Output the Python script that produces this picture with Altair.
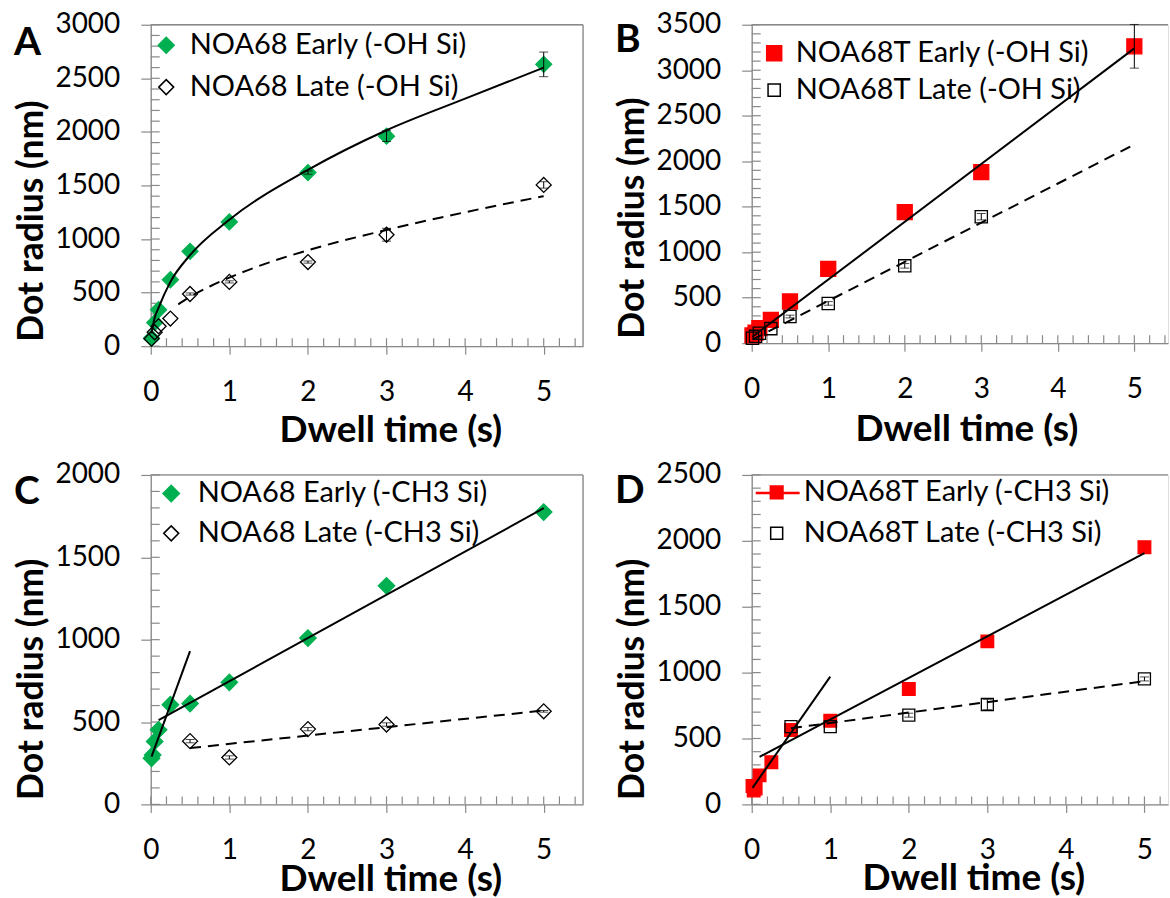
import altair as alt
import pandas as pd

GREEN = "#00B050"
RED = "#FF0000"
GRAY = "#898989"
FONT = "Lato"

# ---------------- Panel A : NOA68 on -OH Si ----------------
A_names = ["NOA68 Early (-OH Si)", "NOA68 Late (-OH Si)"]
A_early_x = [0.01, 0.05, 0.1, 0.25, 0.5, 1, 2, 3, 5]
A_early_y = [75, 220, 340, 620, 885, 1160, 1620, 1960, 2630]
A_early_err = [0, 0, 0, 0, 0, 0, 15, 50, 115]
A_late_x = [0.01, 0.05, 0.1, 0.25, 0.5, 1, 2, 3, 5]
A_late_y = [70, 130, 186, 258, 487, 600, 785, 1040, 1505]
A_late_err = [0, 0, 0, 0, 10, 10, 10, 60, 30]
A_fit_early_x = [0.01, 0.05, 0.1, 0.25, 0.5, 1, 2, 3, 4, 5]
A_fit_early_y = [120, 265, 360, 600, 850, 1180, 1645, 2015, 2310, 2600]
A_fit_late_x = [0.35, 0.5, 0.75, 1, 1.5, 2, 3, 4, 5]
A_fit_late_y = [390, 460, 557, 640, 780, 895, 1085, 1250, 1400]

# ---------------- Panel B : NOA68T on -OH Si ----------------
B_names = ["NOA68T Early (-OH Si)", "NOA68T Late (-OH Si)"]
B_early_x = [0.01, 0.05, 0.1, 0.25, 0.5, 1, 2, 3, 5]
B_early_y = [85, 115, 165, 256, 458, 816, 1440, 1880, 3263]
B_early_err = [0, 0, 0, 0, 0, 0, 0, 0, 240]
B_late_x = [0.01, 0.05, 0.1, 0.25, 0.5, 1, 2, 3]
B_late_y = [55, 75, 110, 160, 293, 437, 850, 1390]
B_late_err = [0, 0, 0, 0, 15, 20, 25, 35]
B_fit_early_x = [0.01, 5]
B_fit_early_y = [70, 3240]
B_fit_late_x = [0.01, 5]
B_fit_late_y = [39, 2184]

# ---------------- Panel C : NOA68 on -CH3 Si ----------------
C_names = ["NOA68 Early (-CH3 Si)", "NOA68 Late (-CH3 Si)"]
C_early_x = [0.01, 0.025, 0.05, 0.1, 0.25, 0.5, 1, 2, 3, 5]
C_early_y = [280, 300, 382, 453, 605, 612, 741, 1010, 1327, 1775]
C_early_err = [0, 0, 0, 0, 0, 0, 0, 0, 0, 0]
C_late_x = [0.5, 1, 2, 3, 5]
C_late_y = [384, 285, 457, 485, 565]
C_late_err = [10, 10, 10, 10, 5]
C_fit1_x = [0.01, 0.5]
C_fit1_y = [290, 930]
C_fit2_x = [0.1, 5]
C_fit2_y = [511, 1798]
C_fit_late_x = [0.5, 5]
C_fit_late_y = [342, 570]

# ---------------- Panel D : NOA68T on -CH3 Si ----------------
D_names = ["NOA68T Early (-CH3 Si)", "NOA68T Late (-CH3 Si)"]
D_early_x = [0.01, 0.025, 0.05, 0.1, 0.25, 0.5, 1, 2, 3, 5]
D_early_y = [140, 105, 120, 220, 320, 565, 635, 876, 1237, 1952]
D_early_err = [0, 0, 0, 0, 0, 0, 0, 0, 0, 0]
D_late_x = [0.5, 1, 2, 3, 5]
D_late_y = [590, 590, 677, 758, 952]
D_late_err = [0, 0, 15, 40, 15]
D_fit1_x = [0.01, 1]
D_fit1_y = [125, 970]
D_fit2_x = [0.1, 5]
D_fit2_y = [361, 1907]
D_fit_late_x = [0.5, 5]
D_fit_late_y = [578, 935]


def panel(letter, letter_y, names, early, late, fits, ymax, xmax, width, height,
          shapes, fills, strokes, sizes, legend_pos, label_offset, row_pad,
          xtitle_pos, right_border, legend_line=None):
    ex, ey, ee = early
    lx, ly, le = late
    pts = pd.DataFrame({
        "x": ex + lx,
        "y": ey + ly,
        "err": ee + le,
        "series": [names[0]] * len(ex) + [names[1]] * len(lx),
    })
    pts["lo"] = pts["y"] - pts["err"]
    pts["hi"] = pts["y"] + pts["err"]
    errs = pts[pts["err"] > 0]

    rows = []
    for i, (fx, fy, dashed) in enumerate(fits):
        for a, b in zip(fx, fy):
            rows.append({"x": a, "y": b, "seg": i, "dash": dashed})
    lines = pd.DataFrame(rows)

    xscale = alt.Scale(domain=[0, xmax], nice=False, zero=False)
    yscale = alt.Scale(domain=[0, ymax], nice=False)
    xaxis = alt.Axis(values=[0, 1, 2, 3, 4, 5], format="d", title="Dwell time (s)",
                     titleFont=FONT, titleFontSize=37, titleFontWeight="bold",
                     titleColor="black", titleX=xtitle_pos[0], titleY=xtitle_pos[1],
                     titleAlign="center", titleBaseline="middle",
                     labelFont=FONT, labelFontSize=28, labelColor="black",
                     labelPadding=24, labelFlush=False, tickSize=8, tickColor=GRAY,
                     tickWidth=1.2, domainColor=GRAY, domainWidth=1.3, grid=False)
    yaxis = alt.Axis(values=list(range(0, ymax + 1, 500)), format="d",
                     title="Dot radius (nm)", titleFont=FONT, titleFontSize=35.5,
                     titleFontWeight="bold", titleColor="black", titleAngle=270,
                     titleX=-119, titleY=height - 5, titleAlign="left",
                     titleBaseline="middle", labelFont=FONT, labelFontSize=28,
                     labelColor="black", labelPadding=21, labelFlush=False,
                     tickSize=10, tickColor=GRAY, tickWidth=1.2, domainColor=GRAY,
                     domainWidth=1.3, grid=False)

    def X(f="x"):
        return alt.X(f"{f}:Q", scale=xscale, axis=xaxis)

    def Y(f="y"):
        return alt.Y(f"{f}:Q", scale=yscale, axis=yaxis)

    dom = names
    leg = alt.Legend(title=None, orient="none", legendX=legend_pos[0], legendY=legend_pos[1],
                     direction="vertical", labelFont=FONT, labelFontSize=29,
                     labelColor="black", labelLimit=600, labelOffset=label_offset,
                     rowPadding=row_pad, padding=0, symbolStrokeWidth=1.5)

    fill_sc = alt.Scale(domain=dom, range=fills)
    stroke_sc = alt.Scale(domain=dom, range=strokes)
    size_sc = alt.Scale(domain=dom, range=sizes)
    shape_sc = alt.Scale(domain=dom, range=shapes)

    # inner (minor and major) ticks
    xt = [round(0.2 * i, 1) for i in range(0, int(xmax / 0.2 + 1e-9) + 1)]
    yt = list(range(0, ymax + 1, 100))
    xticks = alt.Chart(pd.DataFrame({"x": xt})).mark_rule(color=GRAY, strokeWidth=1.2).encode(
        x=X(), y=alt.value(height), y2=alt.value(height - 8))
    yticks = alt.Chart(pd.DataFrame({"y": yt})).mark_rule(color=GRAY, strokeWidth=1.2).encode(
        y=Y(), x=alt.value(0), x2=alt.value(9))
    top = alt.Chart(pd.DataFrame({"y": [ymax]})).mark_rule(color=GRAY, strokeWidth=1.3).encode(y=Y())
    layers = [xticks, yticks, top]
    if right_border:
        layers.append(alt.Chart(pd.DataFrame({"x": [xmax]})).mark_rule(
            color=GRAY, strokeWidth=1.3).encode(x=X()))

    if legend_line is not None:
        # the line drawn through the first legend symbol (line + marker series)
        layers.append(alt.Chart(pd.DataFrame({"s": [names[0]]})).mark_rule(
            color=RED, strokeWidth=2.5).encode(
            x=alt.value(legend_line[0]), x2=alt.value(legend_line[1]),
            y=alt.value(legend_line[2])))

    points = alt.Chart(pts).mark_point(opacity=1, strokeWidth=1.3).encode(
        x=X(), y=Y(),
        fill=alt.Fill("series:N", scale=fill_sc, legend=leg),
        stroke=alt.Stroke("series:N", scale=stroke_sc, legend=leg),
        size=alt.Size("series:N", scale=size_sc, legend=leg),
        shape=alt.Shape("series:N", scale=shape_sc, legend=leg),
    )
    eb = alt.Chart(errs)
    err_rule = eb.mark_rule(color="black", strokeWidth=1).encode(x=X(), y=Y("lo"), y2="hi:Q")
    cap_lo = eb.mark_tick(color="black", orient="horizontal", size=9, thickness=1).encode(x=X(), y=Y("lo"))
    cap_hi = eb.mark_tick(color="black", orient="horizontal", size=9, thickness=1).encode(x=X(), y=Y("hi"))

    solid = alt.Chart(lines[lines["dash"] == 0]).mark_line(
        color="black", strokeWidth=2, interpolate="monotone").encode(x=X(), y=Y(), detail="seg:N")
    dashed = alt.Chart(lines[lines["dash"] == 1]).mark_line(
        color="black", strokeWidth=2, strokeDash=[11, 7], interpolate="monotone").encode(
        x=X(), y=Y(), detail="seg:N")

    label = alt.Chart(pd.DataFrame({"t": [letter]})).mark_text(
        align="left", baseline="alphabetic", font=FONT, fontSize=39, fontWeight="bold",
        color="black").encode(text="t:N", x=alt.value(-137), y=alt.value(letter_y))

    layers += [points, err_rule, cap_lo, cap_hi, solid, dashed, label]
    return alt.layer(*layers).properties(width=width, height=height)


pA = panel("A", 30, A_names,
           (A_early_x, A_early_y, A_early_err), (A_late_x, A_late_y, A_late_err),
           [(A_fit_early_x, A_fit_early_y, 0), (A_fit_late_x, A_fit_late_y, 1)],
           3000, 5.5, 433, 322,
           ["diamond", "diamond"], [GREEN, "transparent"], [GREEN, "black"], [256, 225],
           (1, 6), 9, 12, (240, 84), True)
pB = panel("B", 27, B_names,
           (B_early_x, B_early_y, B_early_err), (B_late_x, B_late_y, B_late_err),
           [(B_fit_early_x, B_fit_early_y, 0), (B_fit_late_x, B_fit_late_y, 1)],
           3500, 5.44, 417, 319,
           ["square", "square"], [RED, "transparent"], [RED, "black"], [225, 150],
           (8, 14), 7, 7, (215, 86), False)
pC = panel("C", 29, C_names,
           (C_early_x, C_early_y, C_early_err), (C_late_x, C_late_y, C_late_err),
           [(C_fit1_x, C_fit1_y, 0), (C_fit2_x, C_fit2_y, 0), (C_fit_late_x, C_fit_late_y, 1)],
           2000, 5.5, 433, 330,
           ["diamond", "diamond"], [GREEN, "transparent"], [GREEN, "black"], [270, 225],
           (6, 4), 12, 10, (240, 75), True)
pD = panel("D", 28, D_names,
           (D_early_x, D_early_y, D_early_err), (D_late_x, D_late_y, D_late_err),
           [(D_fit1_x, D_fit1_y, 0), (D_fit2_x, D_fit2_y, 0), (D_fit_late_x, D_fit_late_y, 1)],
           2500, 5.3, 417, 330,
           ["square", "square"], [RED, "transparent"], [RED, "black"], [160, 144],
           (10.5, 3), 12.5, 11, (222, 74), False, legend_line=(4, 48, 18))

chart = alt.concat(pA, pB, pC, pD, columns=2, spacing={"row": 129, "column": 169},
                   bounds="flush").resolve_scale(
    x="independent", y="independent", fill="independent", stroke="independent",
    size="independent", shape="independent"
).resolve_axis(x="independent", y="independent").resolve_legend(
    fill="independent", stroke="independent", size="independent", shape="independent"
).properties(
    padding={"left": 13, "top": 9, "right": 0, "bottom": 0}
).configure_view(stroke=None).configure(font=FONT)

chart.save("out.html", embed_options={"renderer": "svg", "actions": False})
